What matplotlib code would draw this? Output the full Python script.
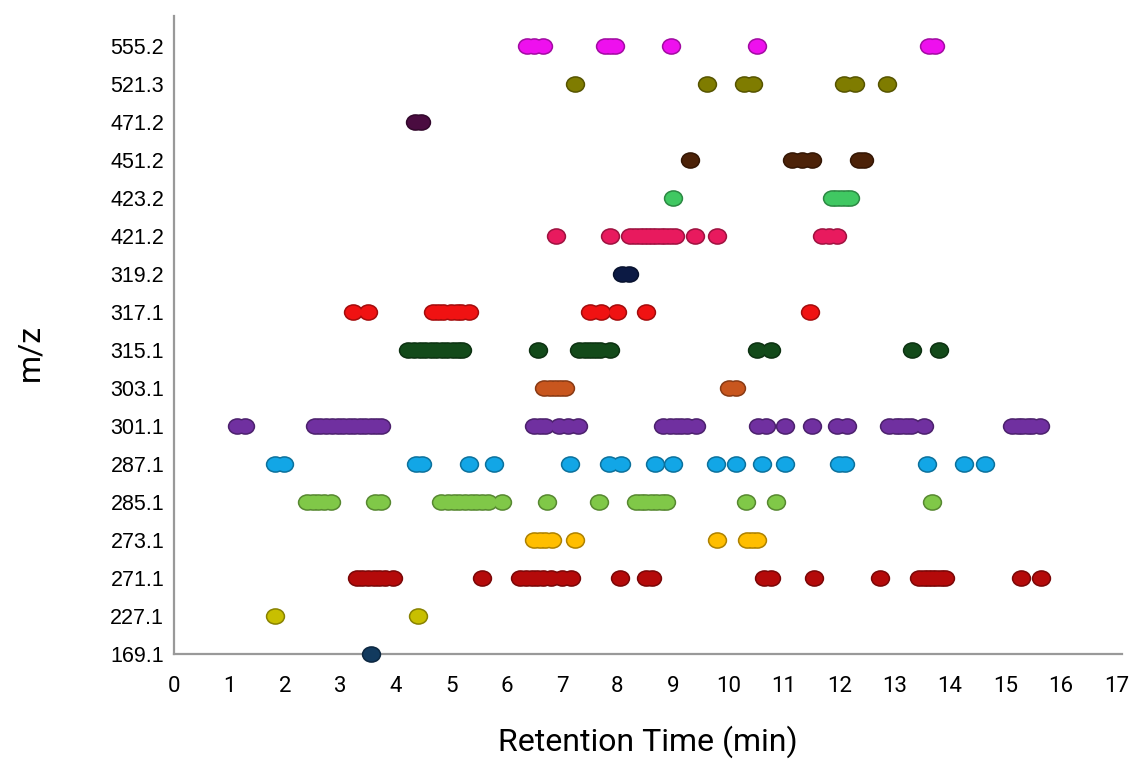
import matplotlib
matplotlib.use("Agg")
from matplotlib import pyplot as plt
from matplotlib.markers import MarkerStyle
from matplotlib.transforms import Affine2D
import matplotlib.colors as mcolors

mz_labels = ["169.1", "227.1", "271.1", "273.1", "285.1", "287.1", "301.1", "303.1",
             "315.1", "317.1", "319.2", "421.2", "423.2", "451.2", "471.2", "521.3", "555.2"]

colors = ["#123a5e", "#c8bf00", "#b40a0a", "#ffbe00", "#80c848", "#12a6e6", "#7030a0", "#c8561e",
          "#134a1a", "#f01212", "#0c1a44", "#e81a5e", "#40c862", "#4c2208", "#4a0c40", "#7f7c00", "#ee10ee"]

# retention times (min) of the detected points for each m/z
rt_169 = [3.55]
rt_227 = [1.83, 4.40]
rt_271 = [3.3, 3.4, 3.5, 3.6, 3.7, 3.8, 3.95, 5.55, 6.25, 6.35, 6.45, 6.55, 6.65, 6.8, 7.0, 7.17,
          8.04, 8.52, 8.62, 10.65, 10.77, 11.55, 12.74, 13.44, 13.52, 13.6, 13.68, 13.75, 13.83,
          13.91, 15.28, 15.64]
rt_273 = [6.5, 6.6, 6.7, 6.81, 7.23, 9.8, 10.34, 10.43, 10.52]
rt_285 = [2.4, 2.5, 2.6, 2.7, 2.83, 3.63, 3.73, 4.82, 4.95, 5.05, 5.15, 5.25, 5.35, 5.45, 5.55,
          5.67, 5.91, 6.72, 7.66, 8.34, 8.42, 8.5, 8.6, 8.7, 8.8, 8.88, 10.31, 10.86, 13.68]
rt_287 = [1.82, 1.98, 4.36, 4.47, 5.33, 5.78, 7.14, 7.84, 8.07, 8.67, 9.01, 9.78, 10.13,
          10.61, 11.03, 12.0, 12.1, 13.59, 14.25, 14.63]
rt_301 = [1.13, 1.28, 2.54, 2.64, 2.75, 2.85, 2.95, 3.05, 3.15, 3.25, 3.35, 3.45, 3.55, 3.65,
          3.73, 6.49, 6.6, 6.7, 6.95, 7.1, 7.28, 8.83, 8.95, 9.05, 9.15, 9.25, 9.42, 10.54, 10.67,
          11.03, 11.51, 11.96, 12.14, 12.9, 13.02, 13.1, 13.2, 13.3, 13.53, 15.12, 15.22, 15.3,
          15.4, 15.47, 15.62]
rt_303 = [6.68, 6.78, 6.87, 6.96, 7.05, 10.02, 10.14]
rt_315 = [4.23, 4.33, 4.43, 4.53, 4.63, 4.73, 4.83, 4.93, 5.03, 5.12, 5.2, 6.56, 7.31, 7.41,
          7.5, 7.6, 7.68, 7.86, 10.52, 10.77, 13.32, 13.8]
rt_317 = [3.23, 3.5, 4.67, 4.77, 4.85, 5.0, 5.1, 5.17, 5.33, 7.51, 7.7, 8.0, 8.52, 11.48]
rt_319 = [8.08, 8.2]
rt_421 = [6.9, 7.87, 8.22, 8.32, 8.4, 8.48, 8.55, 8.62, 8.7, 8.78, 8.85, 8.95, 9.04, 9.39,
          9.8, 11.69, 11.82, 11.96]
rt_423 = [9.01, 11.87, 11.95, 12.04, 12.12, 12.2]
rt_451 = [9.3, 11.15, 11.32, 11.5, 12.35, 12.45]
rt_471 = [4.35, 4.45]
rt_521 = [7.24, 9.62, 10.29, 10.45, 12.09, 12.29, 12.86]
rt_555 = [6.36, 6.5, 6.65, 7.77, 7.86, 7.95, 8.97, 10.52, 13.62, 13.72]

retention = [rt_169, rt_227, rt_271, rt_273, rt_285, rt_287, rt_301, rt_303, rt_315,
             rt_317, rt_319, rt_421, rt_423, rt_451, rt_471, rt_521, rt_555]

fig = plt.figure(figsize=(11.34, 7.59), dpi=100)
ax = fig.add_axes([0.1534, 0.1383, 0.8360, 0.8407])

dot = MarkerStyle("o", transform=Affine2D().scale(1.2, 1.0))

for i, (times, col) in enumerate(zip(retention, colors)):
    rgb = mcolors.to_rgb(col)
    edge = tuple(c * 0.68 for c in rgb)
    # darker outline underneath, then fill on top so touching dots merge
    ax.scatter(times, [i] * len(times), marker=dot, s=96, color=edge,
               edgecolors=[edge], linewidths=2.2, clip_on=False, zorder=3)
    ax.scatter(times, [i] * len(times), marker=dot, s=96, color=col,
               linewidths=0, clip_on=False, zorder=4)

ax.set_xlim(0, 17.1)
ax.set_ylim(0, 16.79)
ax.set_xticks(range(0, 18))
ax.set_yticks(range(len(mz_labels)))
ax.set_yticklabels(mz_labels, family="Liberation Sans", fontsize=15.5)
for lab in ax.get_xticklabels():
    lab.set_family("Roboto")
    lab.set_fontsize(16)
ax.tick_params(axis="both", length=0)
ax.tick_params(axis="y", pad=7)
ax.tick_params(axis="x", pad=16)

for side in ["top", "right"]:
    ax.spines[side].set_visible(False)
for side in ["left", "bottom"]:
    ax.spines[side].set_color("#999999")
    ax.spines[side].set_linewidth(1.6)

ax.set_xlabel("Retention Time (min)", family="Roboto", fontsize=23, labelpad=20)
ax.set_ylabel("m/z", family="Roboto", fontsize=23)
ax.yaxis.set_label_coords(-0.137, 0.473)

fig.savefig("out.png", dpi=100)
